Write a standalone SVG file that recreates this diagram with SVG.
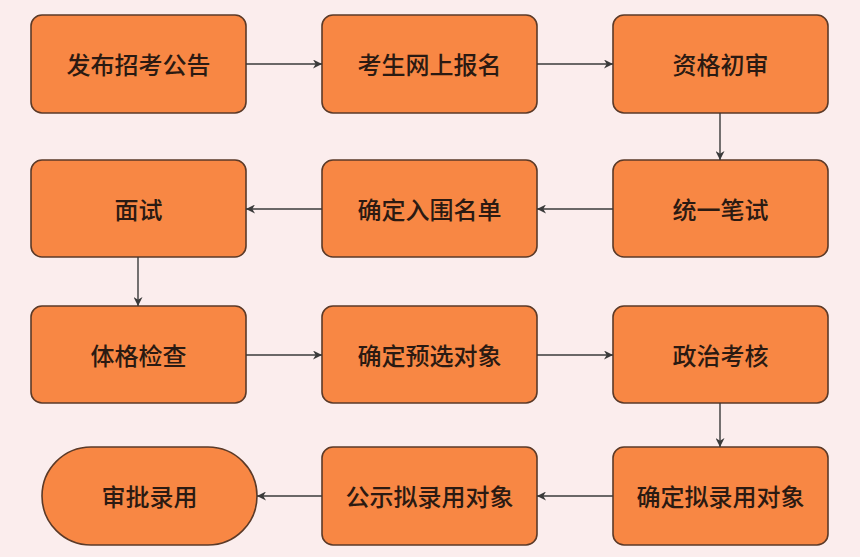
<svg xmlns="http://www.w3.org/2000/svg" width="860" height="557" viewBox="0 0 860 557">
<style>
.n{fill:#f88744;stroke:#5b3a28;stroke-width:1.6}
.t{font-family:"Noto Sans CJK SC","Noto Sans",sans-serif;font-size:24px;font-weight:500;fill:#2b1a12;text-anchor:middle;dominant-baseline:central}
.c{stroke:#3a3a3a;stroke-width:1.4;fill:none;marker-end:url(#a)}
</style>
<defs>
<marker id="a" viewBox="0 0 10 10" refX="10" refY="5" markerWidth="9" markerHeight="9" markerUnits="userSpaceOnUse" orient="auto">
<path d="M0,0 L10,5 L0,10 L3,5 z" fill="#3a3a3a"/>
</marker>
</defs>
<rect width="860" height="557" fill="#fbeded"/>
<g id="n1"><rect class="n" x="31" y="15" width="215" height="98" rx="11"/><text class="t" x="138.5" y="63">发布招考公告</text></g>
<g id="n2"><rect class="n" x="322" y="15" width="215" height="98" rx="11"/><text class="t" x="429.5" y="63">考生网上报名</text></g>
<g id="n3"><rect class="n" x="613" y="15" width="215" height="98" rx="11"/><text class="t" x="720.5" y="63">资格初审</text></g>
<g id="n4"><rect class="n" x="613" y="160" width="215" height="97" rx="11"/><text class="t" x="720.5" y="208">统一笔试</text></g>
<g id="n5"><rect class="n" x="322" y="160" width="215" height="97" rx="11"/><text class="t" x="429.5" y="208">确定入围名单</text></g>
<g id="n6"><rect class="n" x="31" y="160" width="215" height="97" rx="11"/><text class="t" x="138.5" y="208">面试</text></g>
<g id="n7"><rect class="n" x="31" y="306" width="215" height="97" rx="11"/><text class="t" x="138.5" y="354">体格检查</text></g>
<g id="n8"><rect class="n" x="322" y="306" width="215" height="97" rx="11"/><text class="t" x="429.5" y="354">确定预选对象</text></g>
<g id="n9"><rect class="n" x="613" y="306" width="215" height="97" rx="11"/><text class="t" x="720.5" y="354">政治考核</text></g>
<g id="n10"><rect class="n" x="613" y="447" width="215" height="98" rx="11"/><text class="t" x="720.5" y="495">确定拟录用对象</text></g>
<g id="n11"><rect class="n" x="322" y="447" width="215" height="98" rx="11"/><text class="t" x="429.5" y="495">公示拟录用对象</text></g>
<g id="n12"><rect class="n" x="42" y="447" width="215" height="98" rx="49"/><text class="t" x="149.5" y="495">审批录用</text></g>
<g id="connectors">
<line class="c" x1="246" y1="64" x2="322" y2="64"/>
<line class="c" x1="537" y1="64" x2="613" y2="64"/>
<line class="c" x1="720" y1="113" x2="720" y2="160"/>
<line class="c" x1="613" y1="209" x2="537" y2="209"/>
<line class="c" x1="322" y1="209" x2="246" y2="209"/>
<line class="c" x1="138" y1="257" x2="138" y2="306"/>
<line class="c" x1="246" y1="355" x2="322" y2="355"/>
<line class="c" x1="537" y1="355" x2="613" y2="355"/>
<line class="c" x1="720" y1="403" x2="720" y2="447"/>
<line class="c" x1="613" y1="496" x2="537" y2="496"/>
<line class="c" x1="322" y1="496" x2="257" y2="496"/>
</g>
</svg>
